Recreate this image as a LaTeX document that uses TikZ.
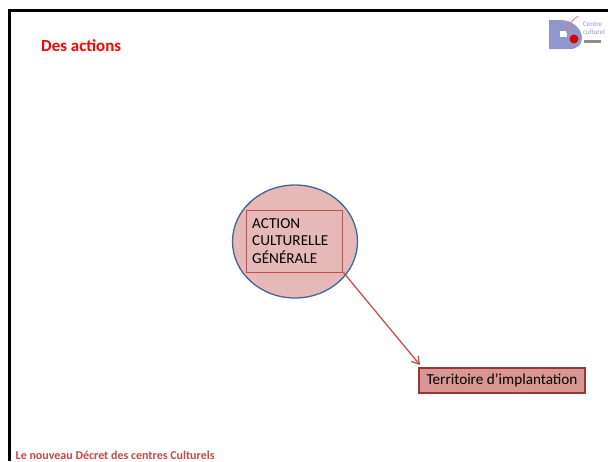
\documentclass[tikz,border=0pt]{standalone}
\usepackage{fontspec}
\setmainfont{Carlito}
\usetikzlibrary{arrows.meta}
\definecolor{ellfill}{HTML}{E6B8B7}
\definecolor{elledge}{HTML}{3F6797}
\definecolor{rededge}{HTML}{C0504D}
\definecolor{boxfill}{HTML}{D99694}
\definecolor{boxedge}{HTML}{953735}
\definecolor{logoblue}{HTML}{8F97CC}
\tikzset{
  x=1pt,y=-1pt,
  framekey/.style={line width=2.2pt,black},
  labeltext/.style={font=\fontsize{15.2}{17.8}\selectfont,text=black,align=left,inner sep=0pt},
  connector/.style={draw=rededge,line width=1.3pt,-{Straight Barb[length=7pt,width=9pt]}},
}
\begin{document}
\begin{tikzpicture}
\useasboundingbox (0,0) rectangle (608,461);
\fill[white] (0,0) rectangle (608,461);
% slide frame
\draw[framekey] (608,10.5) -- (9.5,10.5) -- (9.5,461);
% title and footer
\node[anchor=west,inner sep=0pt,text=red,font=\fontsize{16.9}{20}\selectfont\bfseries] (title) at (41,46) {Des actions};
\node[anchor=base west,inner sep=0pt,text=rededge!90!red,font=\fontsize{12}{14}\selectfont\bfseries] (footer) at (15.5,459.3) {Le nouveau Décret des centres Culturels};
% logo
\fill[logoblue] (549,20) -- (560,20) .. controls (574,20) and (582,30) .. (582,38) .. controls (582,44) and (578,49) .. (570,49) -- (549,49) -- cycle;
\fill[white] (560,31) rectangle (567,37);
\fill[red!85!black] (574,39) circle (4.5);
\draw[red!55,line width=.8pt] (566,33) .. controls (568,26) and (572,20) .. (578,16);
\node[anchor=north west,inner sep=0pt,text=logoblue,font=\fontsize{7}{8.5}\selectfont,align=left] (logotext) at (583,21.5) {Centre\\culturel};
\fill[black!45] (584,40) rectangle (601,43);
% central shapes
\path[draw=elledge,fill=ellfill,line width=1.3pt] (295,241.5) ellipse [x radius=62.5,y radius=56.5];
\node[draw=rededge,line width=1pt,minimum width=96.5pt,minimum height=62pt,inner sep=0pt] (action) at (294.7,241) {};
\node[labeltext,anchor=west] (actiontext) at (252,241) {ACTION\\CULTURELLE\\GÉNÉRALE};
% target box
\node[draw=boxedge,fill=boxfill,line width=1.6pt,minimum width=166pt,minimum height=25pt,inner sep=0pt,font=\fontsize{15.2}{18}\selectfont] (terr) at (502,380.5) {Territoire d’implantation};
\coordinate (tip) at (420,365);
\draw[connector] (action.south east) -- (tip);
\end{tikzpicture}
\end{document}
